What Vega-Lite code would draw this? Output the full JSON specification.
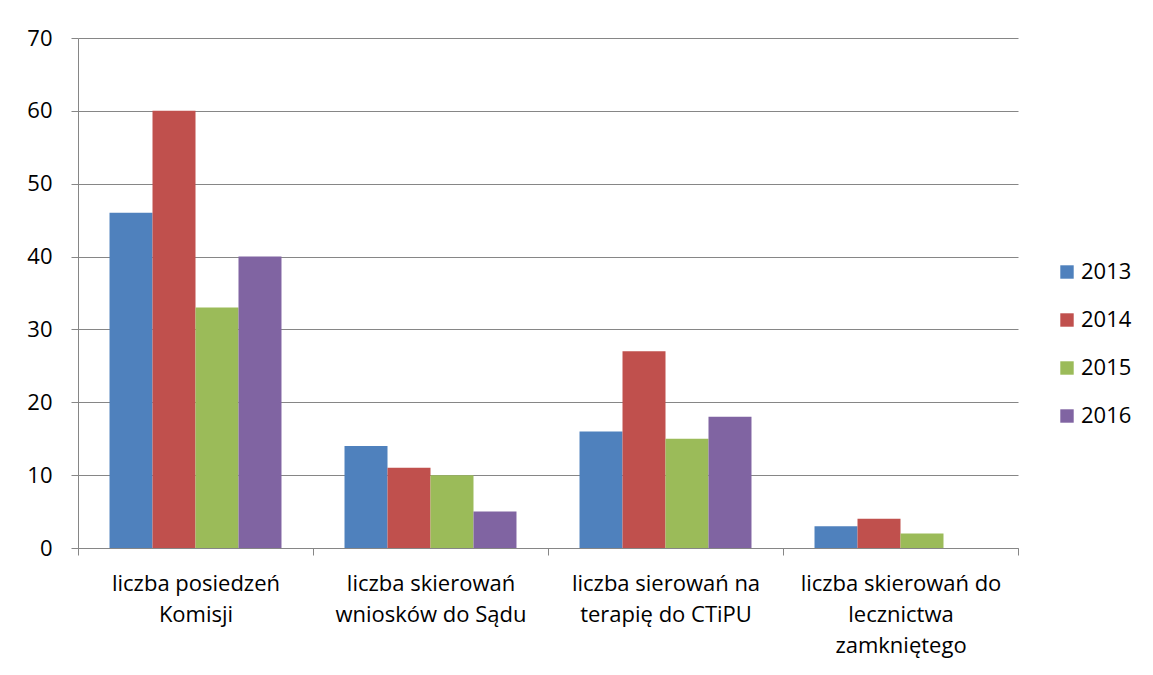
{
  "$schema": "https://vega.github.io/schema/vega-lite/v6.json",
  "width": 940,
  "height": 510,
  "autosize": {"type": "none"},
  "padding": {"left": 78, "top": 38, "right": 135, "bottom": 127},
  "background": "white",
  "config": {
    "font": "Open Sans",
    "view": {"stroke": null}
  },
  "data": {
    "values": [
      {"kat": "liczba posiedzeń|Komisji", "rok": "2013", "v": 46},
      {"kat": "liczba posiedzeń|Komisji", "rok": "2014", "v": 60},
      {"kat": "liczba posiedzeń|Komisji", "rok": "2015", "v": 33},
      {"kat": "liczba posiedzeń|Komisji", "rok": "2016", "v": 40},
      {"kat": "liczba skierowań|wniosków do Sądu", "rok": "2013", "v": 14},
      {"kat": "liczba skierowań|wniosków do Sądu", "rok": "2014", "v": 11},
      {"kat": "liczba skierowań|wniosków do Sądu", "rok": "2015", "v": 10},
      {"kat": "liczba skierowań|wniosków do Sądu", "rok": "2016", "v": 5},
      {"kat": "liczba sierowań na|terapię do CTiPU", "rok": "2013", "v": 16},
      {"kat": "liczba sierowań na|terapię do CTiPU", "rok": "2014", "v": 27},
      {"kat": "liczba sierowań na|terapię do CTiPU", "rok": "2015", "v": 15},
      {"kat": "liczba sierowań na|terapię do CTiPU", "rok": "2016", "v": 18},
      {"kat": "liczba skierowań do|lecznictwa|zamkniętego", "rok": "2013", "v": 3},
      {"kat": "liczba skierowań do|lecznictwa|zamkniętego", "rok": "2014", "v": 4},
      {"kat": "liczba skierowań do|lecznictwa|zamkniętego", "rok": "2015", "v": 2},
      {"kat": "liczba skierowań do|lecznictwa|zamkniętego", "rok": "2016", "v": 0}
    ]
  },
  "mark": {"type": "bar"},
  "encoding": {
    "x": {
      "field": "kat",
      "type": "nominal",
      "sort": null,
      "scale": {"paddingInner": 0, "paddingOuter": 0},
      "axis": {
        "title": null,
        "labelAngle": 0,
        "labelExpr": "split(datum.label, '|')",
        "labelFontSize": 22,
        "labelColor": "black",
        "labelLineHeight": 31,
        "labelPadding": 18,
        "labelBaseline": "top",
        "tickBand": "extent",
        "tickSize": 7,
        "tickColor": "#868686",
        "domainColor": "#868686",
        "labelLimit": 300
      }
    },
    "xOffset": {
      "field": "rok",
      "type": "nominal",
      "scale": {"paddingInner": 0, "paddingOuter": 0.733}
    },
    "y": {
      "field": "v",
      "type": "quantitative",
      "scale": {"domain": [0, 70]},
      "axis": {
        "title": null,
        "values": [0, 10, 20, 30, 40, 50, 60, 70],
        "labelFontSize": 22,
        "labelColor": "black",
        "labelPadding": 19,
        "tickSize": 7,
        "tickColor": "#868686",
        "domainColor": "#868686",
        "gridColor": "#868686",
        "grid": true
      }
    },
    "color": {
      "field": "rok",
      "type": "nominal",
      "scale": {"range": ["#4F81BD", "#C0504D", "#9BBB59", "#8064A2"]},
      "legend": {
        "title": null,
        "orient": "none",
        "legendX": 978,
        "legendY": 223,
        "symbolType": "square",
        "symbolSize": 180,
        "symbolStrokeWidth": 0,
        "labelFontSize": 22,
        "labelColor": "black",
        "rowPadding": 26,
        "labelOffset": 3
      }
    }
  }
}
